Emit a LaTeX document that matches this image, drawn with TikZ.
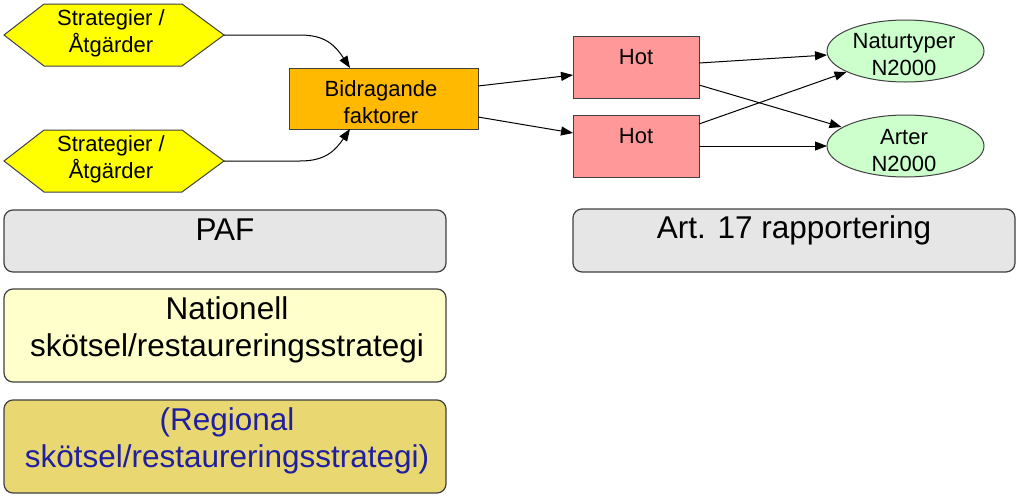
\documentclass[tikz,border=0pt]{standalone}
\usepackage{fontspec}
\setmainfont{Liberation Sans}
\usetikzlibrary{arrows.meta,calc,shapes.geometric}
\definecolor{hexy}{HTML}{FFFF00}
\definecolor{bidc}{HTML}{FFB900}
\definecolor{hotc}{HTML}{FF9999}
\definecolor{ellc}{HTML}{CCFFCC}
\definecolor{grayc}{HTML}{E6E6E6}
\definecolor{natc}{HTML}{FFFFCC}
\definecolor{regc}{HTML}{E9D871}
\definecolor{regtext}{HTML}{1F1FA0}
\definecolor{edgec}{HTML}{404040}
\begin{document}
\begin{tikzpicture}[x=1pt,y=-1pt,
  every node/.style={inner sep=0pt,outer sep=0pt},
  small/.style={font=\fontsize{22}{27}\selectfont,align=center},
  big/.style={font=\fontsize{31.5}{37}\selectfont,align=center},
  boxc/.style={draw=edgec,line width=1pt},
  arr/.style={line width=1pt,-{Triangle[length=12pt,width=9pt]}},
  hexbase/.style={minimum width=220pt,minimum height=62pt,small},
  rbox/.style={draw=edgec,line width=1.2pt,rounded corners=9pt}
]
\useasboundingbox (0,0) rectangle (1023,501);
% hexagons
\node[hexbase] (h1) at (114,35) {};
\node[hexbase] (h2) at (114,161) {};
\foreach \h in {h1,h2}{
  \draw[boxc,fill=hexy] (\h.west) -- ($(\h.north west)+(40,0)$) -- ($(\h.north east)+(-42,0)$)
    -- (\h.east) -- ($(\h.south east)+(-42,0)$) -- ($(\h.south west)+(40,0)$) -- cycle;
}
\node[small] (t1) at (111,33) {Strategier /\\Åtgärder};
\node[small] (t2) at (111,159) {Strategier /\\Åtgärder};
% Bidragande
\node[boxc,fill=bidc,minimum width=189pt,minimum height=61pt] (bid) at (383.5,98.5) {};
\node[small] (bidt) at (381,102) {Bidragande\\faktorer};
% Hot
\node[boxc,fill=hotc,minimum width=126pt,minimum height=62pt] (hot1) at (636,67) {};
\node[small,anchor=center] (hl1) at (636,57) {Hot};
\node[boxc,fill=hotc,minimum width=126pt,minimum height=62pt] (hot2) at (636,146) {};
\node[small,anchor=center] (hl2) at (636,136) {Hot};
% ellipses
\node[boxc,fill=ellc,ellipse,minimum width=157pt,minimum height=62pt] (nat) at (905.5,51) {};
\node[small] (natl) at (904,55) {Naturtyper\\N2000};
\node[boxc,fill=ellc,ellipse,minimum width=157pt,minimum height=62pt] (art) at (905.5,146) {};
\node[small] (artl) at (904,151) {Arter\\N2000};
% connectors
\coordinate (b1) at ($(bid.north west)+(61,0)$);
\coordinate (b2) at ($(bid.south west)+(61,0)$);
\draw[arr] (h1.east) -- (300,35) .. controls (325,35) and (335,45) .. (b1);
\draw[arr] (h2.east) -- (300,161) .. controls (325,161) and (335,151) .. (b2);
\draw[arr] ($(bid.north east)+(0,18)$) -- ($(hot1.north west)+(0,39)$);
\draw[arr] ($(bid.north east)+(0,49)$) -- ($(hot2.north west)+(0,18)$);
\draw[arr] ($(hot1.north east)+(0,27)$) -- ($(nat.west)+(0,4)$);
\draw[arr] ($(hot1.north east)+(0,49)$) -- ($(art.center)+(-64,-19)$);
\draw[arr] ($(hot2.north east)+(0,9)$) -- ($(nat.center)+(-59,21)$);
\draw[arr] (hot2.east) -- (art.west);
% bottom boxes
\node[rbox,fill=grayc,minimum width=442pt,minimum height=62pt] (paf) at (225,241) {};
\node[big] (paft) at (225,230) {PAF};
\node[rbox,fill=grayc,minimum width=442pt,minimum height=63pt] (a17) at (794,240.5) {};
\node[big] (a17t) at (794,230) {Art. 17 rapportering};
\node[rbox,fill=natc,minimum width=442pt,minimum height=93pt] (nat2) at (225,335.5) {};
\node[big] (natt) at (227,330) {Nationell\\skötsel/restaureringsstrategi};
\node[rbox,fill=regc,minimum width=442pt,minimum height=93pt] (reg) at (225,446.5) {};
\node[big,text=regtext] (regt) at (227,441) {(Regional\\skötsel/restaureringsstrategi)};
\end{tikzpicture}
\end{document}
